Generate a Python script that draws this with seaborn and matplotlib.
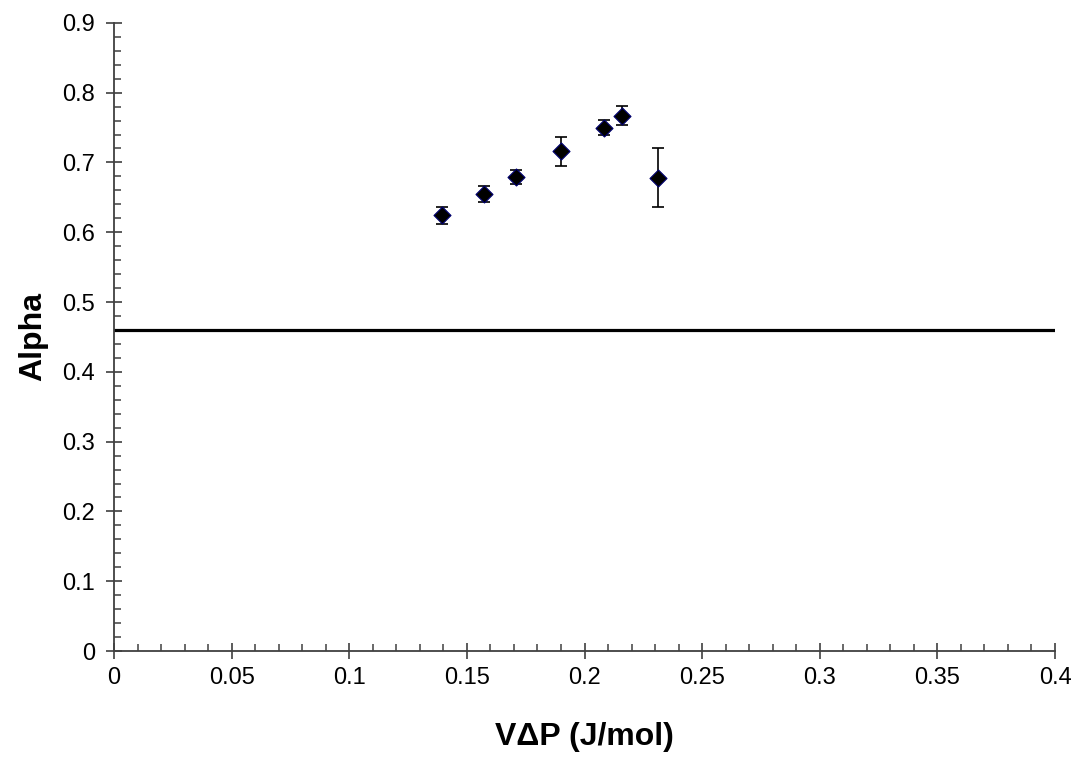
import numpy as np
import matplotlib
matplotlib.use("Agg")
import matplotlib.pyplot as plt
from matplotlib.ticker import MultipleLocator, FuncFormatter
import seaborn as sns
import pandas as pd

# Measured alpha versus V*dP
vdp = [0.1396, 0.1571, 0.1707, 0.1899, 0.2084, 0.2161, 0.2314]
alpha = [0.624, 0.655, 0.679, 0.716, 0.750, 0.767, 0.678]
alpha_err = [0.012, 0.011, 0.0095, 0.021, 0.011, 0.014, 0.042]
reference_alpha = 0.46

x_ticks = [0, 0.05, 0.1, 0.15, 0.2, 0.25, 0.3, 0.35, 0.4]
y_ticks = [0, 0.1, 0.2, 0.3, 0.4, 0.5, 0.6, 0.7, 0.8, 0.9]

sns.set_style("white")
plt.rcParams["font.family"] = ["Liberation Sans", "DejaVu Sans"]

df = pd.DataFrame({"vdp": vdp, "alpha": alpha, "err": alpha_err})

fig = plt.figure(figsize=(10.76, 7.61), dpi=100)
ax = fig.add_axes([0.106, 0.1445, 0.8745, 0.8255])

ax.axhline(reference_alpha, color="black", lw=2.3, zorder=1)
ax.errorbar(df["vdp"], df["alpha"], yerr=df["err"], fmt="none",
            ecolor="black", elinewidth=1.2, capsize=4, capthick=1.2, zorder=2)
sns.scatterplot(data=df, x="vdp", y="alpha", ax=ax, marker="D", s=75,
                color="black", edgecolor="#000070", linewidth=0.8, zorder=3)

ax.set_xlim(0, 0.4)
ax.set_ylim(0, 0.9)
ax.set_xticks(x_ticks)
ax.set_yticks(y_ticks)
fmt = FuncFormatter(lambda v, p: ("%g" % round(v, 3)))
ax.xaxis.set_major_formatter(fmt)
ax.yaxis.set_major_formatter(fmt)
ax.xaxis.set_minor_locator(MultipleLocator(0.01))
ax.yaxis.set_minor_locator(MultipleLocator(0.02))

for side in ["top", "right"]:
    ax.spines[side].set_visible(False)
for side in ["left", "bottom"]:
    ax.spines[side].set_color("#404040")
    ax.spines[side].set_linewidth(1.3)

ax.tick_params(which="both", bottom=True, left=True, top=False, right=False)
ax.tick_params(which="major", direction="inout", length=11, width=1.2,
               color="#404040", labelsize=17, labelcolor="black")
ax.tick_params(which="minor", direction="in", length=5, width=1.1,
               color="#404040")
ax.tick_params(axis="x", which="major", pad=6)
ax.tick_params(axis="y", which="major", pad=8)

ax.set_xlabel("V\u0394P (J/mol)", fontsize=23, fontweight="bold",
              labelpad=24, color="black")
ax.set_ylabel("Alpha", fontsize=23, fontweight="bold",
              labelpad=10, color="black")

fig.savefig("out.png", dpi=100)
